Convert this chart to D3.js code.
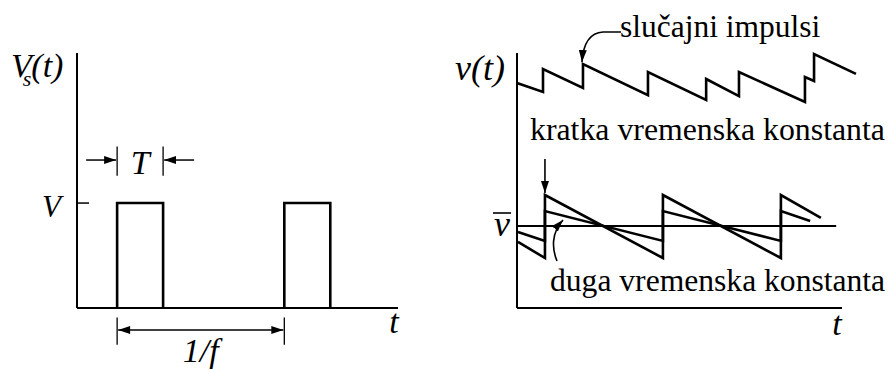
<!DOCTYPE html>
<html>
<head>
<meta charset="utf-8">
<script src="https://cdn.jsdelivr.net/npm/d3@7"></script>
<style>
  body { margin: 0; background: #fff; }
  text { font-family: "Liberation Serif", "Times New Roman", serif; fill: #000; }
</style>
</head>
<body>
<script>
// ---- data (left: pulse train, right: sawtooth responses) ----
var pulseStarts = [0.24, 1.24];   // in units of the period 1/f
var pulseWidth = 0.275;           // T
var pulseLevel = 1;               // V

// top trace v(t) with random pulses
var topT = [0, 0.8, 0.8, 2.03, 2.03, 4.03, 4.03, 5.82, 5.82, 6.83, 6.83, 8.86, 8.86, 9.14, 9.14, 10.43];
var topV = [8.82, 8.47, 9.37, 8.63, 9.57, 8.35, 9.25, 8.16, 8.98, 8.31, 9.25, 8.08, 9.06, 8.9, 9.96, 9.18];

// lower traces: short and long time constant
var shortT = [0.03, 0.86, 0.86, 4.49, 4.49, 8.12, 8.12, 9.35];
var shortV = [2.59, 1.96, 4.43, 1.96, 4.43, 1.96, 4.43, 3.53];
var longT = [0.03, 0.86, 0.86, 4.49, 4.49, 8.12, 8.12, 9.02];
var longV = [2.98, 2.63, 3.8, 2.63, 3.8, 2.63, 3.8, 3.41];
var vMean = 3.22;

var svgWidth = 888;
var svgHeight = 369;

var svg = d3.select("body")
  .append("svg")
  .attr("width", svgWidth)
  .attr("height", svgHeight);

// arrow heads
var defs = svg.append("defs");
defs.append("marker")
  .attr("id", "head")
  .attr("markerUnits", "userSpaceOnUse")
  .attr("markerWidth", 13).attr("markerHeight", 9)
  .attr("refX", 12).attr("refY", 4)
  .attr("orient", "auto")
  .append("path").attr("d", "M0,0 L12,4 L0,8 Z").attr("fill", "#000");
defs.append("marker")
  .attr("id", "tail")
  .attr("markerUnits", "userSpaceOnUse")
  .attr("markerWidth", 13).attr("markerHeight", 9)
  .attr("refX", 0).attr("refY", 4)
  .attr("orient", "auto")
  .append("path").attr("d", "M12,0 L0,4 L12,8 Z").attr("fill", "#000");

// ---------------- left panel ----------------
var xL = d3.scaleLinear().domain([0, 1.92]).range([77, 398]);
var yL = d3.scaleLinear().domain([0, 2.43]).range([308, 53]);
var left = svg.append("g");

// axes
left.append("line")
  .attr("x1", xL(0)).attr("x2", xL(0))
  .attr("y1", yL(0)).attr("y2", yL(2.43))
  .attr("stroke", "#000").attr("stroke-width", 2);
left.append("line")
  .attr("x1", xL(0)).attr("x2", xL(1.92))
  .attr("y1", yL(0)).attr("y2", yL(0))
  .attr("stroke", "#000").attr("stroke-width", 2);
// V tick
left.append("line")
  .attr("x1", xL(0)).attr("x2", xL(0) + 12)
  .attr("y1", yL(pulseLevel)).attr("y2", yL(pulseLevel))
  .attr("stroke", "#000").attr("stroke-width", 1.5);

var lineL = d3.line().x(d => xL(d[0])).y(d => yL(d[1]));
left.selectAll(".pulse")
  .data(pulseStarts)
  .enter()
  .append("path")
  .attr("class", "pulse")
  .attr("d", s => lineL([[s, 0], [s, pulseLevel], [s + pulseWidth, pulseLevel], [s + pulseWidth, 0]]))
  .attr("fill", "none")
  .attr("stroke", "#000")
  .attr("stroke-width", 2.6);

// T annotation
var tY = yL(1.41);
[pulseStarts[0], pulseStarts[0] + pulseWidth].forEach(function(s) {
  left.append("line")
    .attr("x1", xL(s)).attr("x2", xL(s))
    .attr("y1", yL(1.54)).attr("y2", yL(1.26))
    .attr("stroke", "#000").attr("stroke-width", 1.3);
});
left.append("line")
  .attr("x1", xL(pulseStarts[0]) - 31).attr("x2", xL(pulseStarts[0]) - 1)
  .attr("y1", tY).attr("y2", tY)
  .attr("stroke", "#000").attr("stroke-width", 1.5)
  .attr("marker-end", "url(#head)");
left.append("line")
  .attr("x1", xL(pulseStarts[0] + pulseWidth) + 31).attr("x2", xL(pulseStarts[0] + pulseWidth) + 1)
  .attr("y1", tY).attr("y2", tY)
  .attr("stroke", "#000").attr("stroke-width", 1.5)
  .attr("marker-end", "url(#head)");
left.append("text")
  .attr("x", xL(pulseStarts[0] + pulseWidth / 2)).attr("y", 174)
  .attr("text-anchor", "middle")
  .style("font-size", "34px").style("font-style", "italic")
  .text("T");

// 1/f annotation
var fY = yL(-0.21);
[pulseStarts[0], pulseStarts[1]].forEach(function(s) {
  left.append("line")
    .attr("x1", xL(s)).attr("x2", xL(s))
    .attr("y1", yL(-0.09)).attr("y2", yL(-0.35))
    .attr("stroke", "#000").attr("stroke-width", 1.3);
});
left.append("line")
  .attr("x1", xL(pulseStarts[0]) + 1).attr("x2", xL(pulseStarts[1]) - 1)
  .attr("y1", fY).attr("y2", fY)
  .attr("stroke", "#000").attr("stroke-width", 1.5)
  .attr("marker-start", "url(#tail)")
  .attr("marker-end", "url(#head)");
left.append("text")
  .attr("x", xL((pulseStarts[0] + pulseStarts[1]) / 2)).attr("y", 362)
  .attr("text-anchor", "middle")
  .style("font-size", "34px").style("font-style", "italic")
  .text("1/f");

// labels
var vsLabel = left.append("text")
  .attr("x", 11).attr("y", 77)
  .style("font-size", "34px").style("font-style", "italic");
vsLabel.append("tspan").text("V");
vsLabel.append("tspan").attr("dx", -9).attr("dy", 9).style("font-size", "22px").text("s");
vsLabel.append("tspan").attr("dy", -9).text("(t)");

left.append("text")
  .attr("x", 61).attr("y", yL(pulseLevel) + 14)
  .attr("text-anchor", "end")
  .style("font-size", "31px").style("font-style", "italic")
  .text("V");
left.append("text")
  .attr("x", 394).attr("y", 333)
  .attr("text-anchor", "middle")
  .style("font-size", "34px").style("font-style", "italic")
  .text("t");

// ---------------- right panel ----------------
var xR = d3.scaleLinear().domain([0, 10]).range([517, 842]);
var yR = d3.scaleLinear().domain([0, 10]).range([308, 53]);
var right = svg.append("g");

right.append("line")
  .attr("x1", xR(0)).attr("x2", xR(0))
  .attr("y1", yR(0)).attr("y2", yR(10))
  .attr("stroke", "#000").attr("stroke-width", 2);
right.append("line")
  .attr("x1", xR(0)).attr("x2", xR(10))
  .attr("y1", yR(0)).attr("y2", yR(0))
  .attr("stroke", "#000").attr("stroke-width", 2);
// mean level
right.append("line")
  .attr("x1", xR(0)).attr("x2", xR(9.82))
  .attr("y1", yR(vMean)).attr("y2", yR(vMean))
  .attr("stroke", "#000").attr("stroke-width", 2);

var lineR = d3.line().x(d => xR(d[0])).y(d => yR(d[1]));
var traces = [
  { t: topT, v: topV },
  { t: longT, v: longV },
  { t: shortT, v: shortV }
];
right.selectAll(".trace")
  .data(traces)
  .enter()
  .append("path")
  .attr("class", "trace")
  .attr("d", d => lineR(d.t.map((t, i) => [t, d.v[i]])))
  .attr("fill", "none")
  .attr("stroke", "#000")
  .attr("stroke-width", 2.6)
  .attr("stroke-linejoin", "miter");

// labels
right.append("text")
  .attr("x", 455).attr("y", 80)
  .style("font-size", "36px").style("font-style", "italic")
  .text("v(t)");
right.append("text")
  .attr("x", 502).attr("y", 236)
  .attr("text-anchor", "middle")
  .style("font-size", "36px").style("font-style", "italic")
  .text("v");
right.append("line")
  .attr("x1", 493).attr("x2", 511)
  .attr("y1", 213).attr("y2", 213)
  .attr("stroke", "#000").attr("stroke-width", 1.6);
right.append("text")
  .attr("x", 837).attr("y", 335)
  .attr("text-anchor", "middle")
  .style("font-size", "34px").style("font-style", "italic")
  .text("t");

// "slučajni impulsi" with curved arrow to the pulse at topT[4]
var px = xR(topT[4]), py = yR(topV[4]);
right.append("text")
  .attr("x", 620).attr("y", 37)
  .style("font-size", "31.5px")
  .text("slučajni impulsi");
right.append("path")
  .attr("d", "M621,32 L603,32 Q" + (px + 1) + ",33 " + (px - 1) + "," + (py - 2))
  .attr("fill", "none").attr("stroke", "#000").attr("stroke-width", 1.6)
  .attr("marker-end", "url(#head)");

// "kratka vremenska konstanta"
right.append("text")
  .attr("x", 530).attr("y", 140)
  .style("font-size", "31.8px")
  .text("kratka vremenska konstanta");
right.append("line")
  .attr("x1", xR(shortT[1])).attr("x2", xR(shortT[1]))
  .attr("y1", 159).attr("y2", yR(shortV[2]) - 2)
  .attr("stroke", "#000").attr("stroke-width", 1.6)
  .attr("marker-end", "url(#head)");

// "duga vremenska konstanta"
right.append("text")
  .attr("x", 550).attr("y", 291)
  .style("font-size", "31.6px")
  .text("duga vremenska konstanta");
right.append("path")
  .attr("d", "M557,261 C552,249 551,233 563,220")
  .attr("fill", "none").attr("stroke", "#000").attr("stroke-width", 1.6)
  .attr("marker-end", "url(#head)");
</script>
</body>
</html>
